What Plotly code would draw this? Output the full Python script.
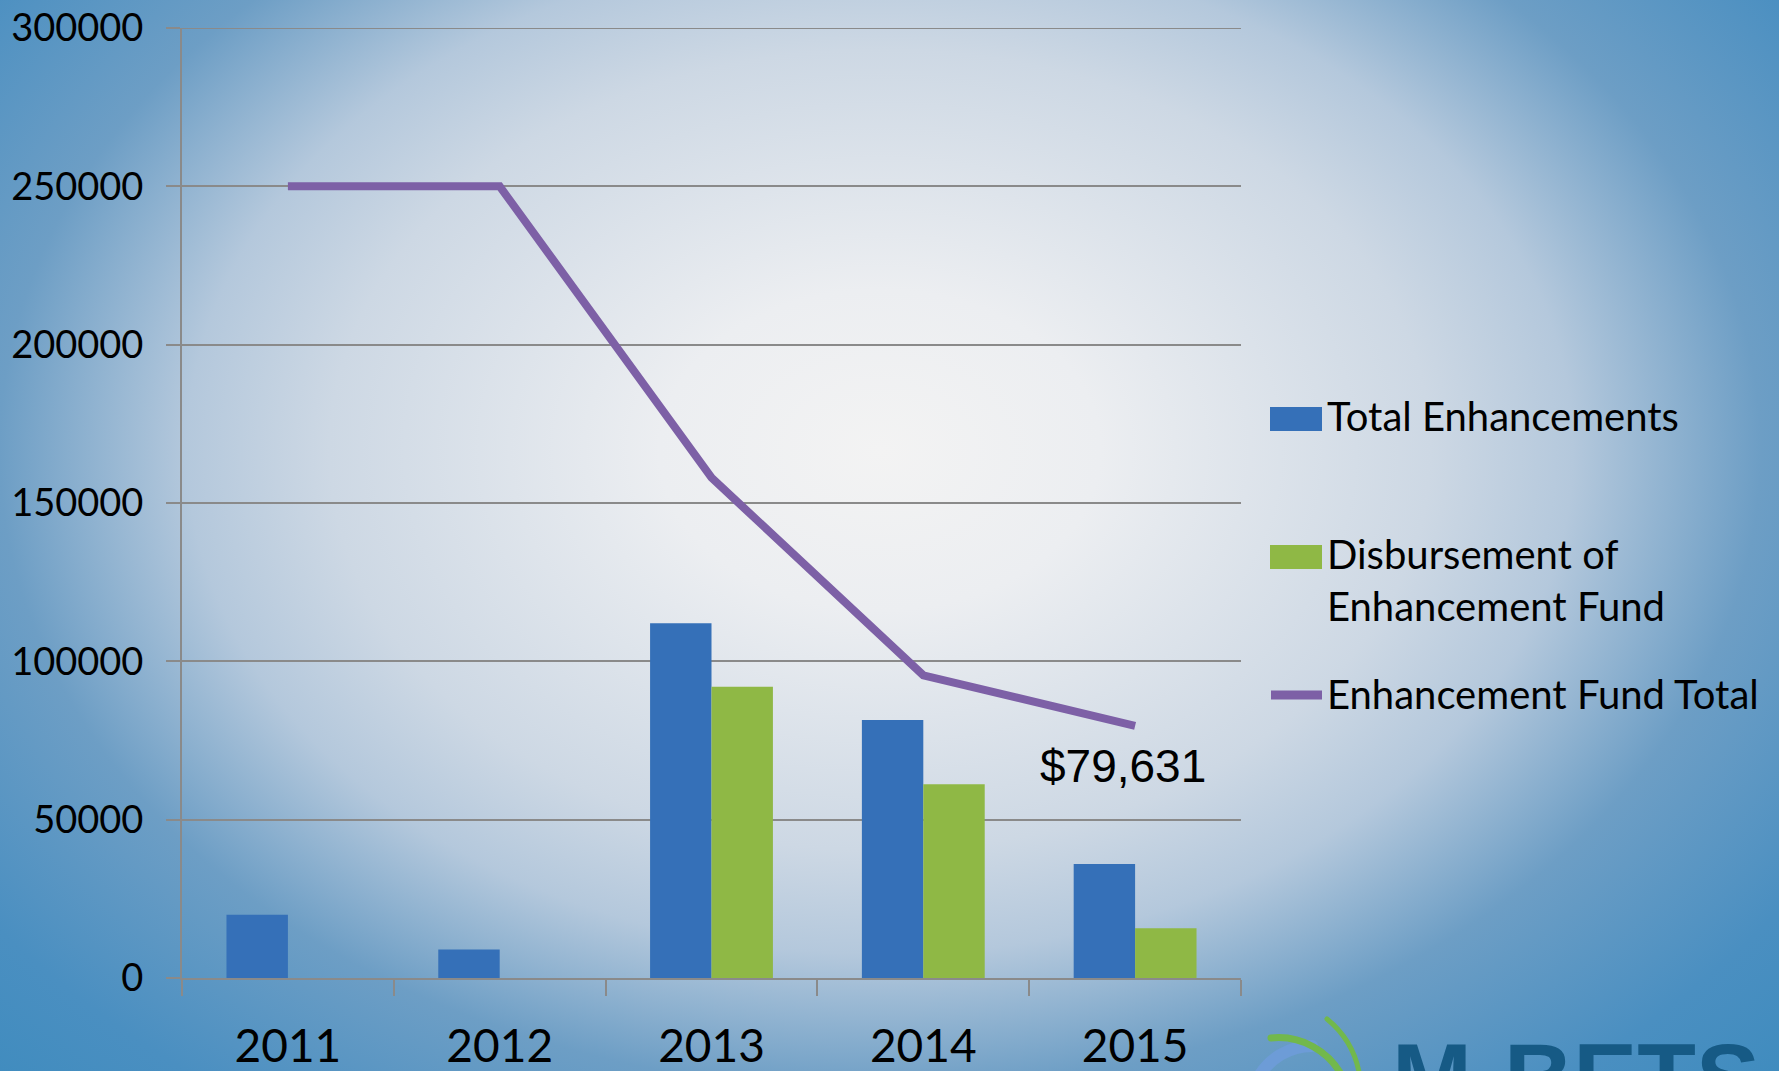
import base64
import plotly.graph_objects as go

# ---- data ----
years = ["2011", "2012", "2013", "2014", "2015"]
total_enhancements = [20000, 9000, 112000, 81500, 36000]
disbursement = [None, None, 92000, 61200, 15700]
fund_total = [250000, 250000, 158000, 95600, 79631]
last_label = "$79,631"
y_ticks = [0, 50000, 100000, 150000, 200000, 250000, 300000]

W, H = 1779, 1071
L, R, T, B = 182, 538, 28, 93
PW, PH = W - L - R, H - T - B

def px(x):
    return (x - L) / PW

def py(y):
    return (H - B - y) / PH

# ---- background (radial gradient + logo arcs) ----
svg = f"""<svg xmlns='http://www.w3.org/2000/svg' width='{W}' height='{H}' viewBox='0 0 {W} {H}' preserveAspectRatio='none'>
<defs><radialGradient id='g' gradientUnits='userSpaceOnUse' cx='0' cy='0' r='1' gradientTransform='translate(880 450) scale(1320 960)'>
<stop offset='0' stop-color='#f3f3f3'/>
<stop offset='0.167' stop-color='#eceef1'/>
<stop offset='0.417' stop-color='#cdd8e4'/>
<stop offset='0.525' stop-color='#b4c8dc'/>
<stop offset='0.667' stop-color='#6d9ec5'/>
<stop offset='0.833' stop-color='#4a8fc1'/>
<stop offset='1' stop-color='#3a8abd'/>
</radialGradient></defs>
<rect width='{W}' height='{H}' fill='url(#g)'/>
<path d='M1258,1078 A62,62 0 0 1 1312,1046' fill='none' stroke='#6d9cd7' stroke-width='12' stroke-linecap='round'/>
<path d='M1271,1038 A72,72 0 0 1 1343,1078' fill='none' stroke='#72b84c' stroke-width='7' stroke-linecap='round'/>
<path d='M1327,1019 A92,92 0 0 1 1360,1078' fill='none' stroke='#72b84c' stroke-width='5' stroke-linecap='round'/>
</svg>"""
bg_src = "data:image/svg+xml;base64," + base64.b64encode(svg.encode()).decode()

blue = "#3570b8"
green = "#8fb845"
purple = "#7d60a6"
grid = "#8a8a8a"

fig = go.Figure()
fig.add_trace(go.Bar(x=years, y=total_enhancements, name="Total Enhancements",
                     marker=dict(color=blue, line=dict(width=0))))
fig.add_trace(go.Bar(x=years, y=disbursement, name="Disbursement of Enhancement Fund",
                     marker=dict(color=green, line=dict(width=0))))
fig.add_trace(go.Scatter(x=years, y=fund_total, mode="lines", name="Enhancement Fund Total",
                         line=dict(color=purple, width=8)))

shapes = [
    # top gridline (plotly omits grid lines at the range edge)
    dict(type="line", xref="paper", yref="y", x0=0, x1=1, y0=y_ticks[-1], y1=y_ticks[-1],
         line=dict(color=grid, width=2), layer="below"),
    dict(type="rect", xref="paper", yref="paper", x0=px(1270), x1=px(1322), y0=py(431), y1=py(407),
         fillcolor=blue, line=dict(width=0)),
    dict(type="rect", xref="paper", yref="paper", x0=px(1270), x1=px(1322), y0=py(569), y1=py(545),
         fillcolor=green, line=dict(width=0)),
    dict(type="line", xref="paper", yref="paper", x0=px(1271), x1=px(1322), y0=py(695), y1=py(695),
         line=dict(color=purple, width=9)),
]

leg_font = dict(family="Lato", size=40, color="#000000")
annotations = [
    dict(xref="paper", yref="paper", x=px(1325), y=py(416), xanchor="left", yanchor="middle",
         text="Total Enhancements", showarrow=False, font=leg_font),
    dict(xref="paper", yref="paper", x=px(1325), y=py(580), xanchor="left", yanchor="middle",
         text="Disbursement of<br>Enhancement Fund", showarrow=False, font=leg_font, align="left"),
    dict(xref="paper", yref="paper", x=px(1325), y=py(694), xanchor="left", yanchor="middle",
         text="Enhancement Fund Total", showarrow=False, font=leg_font),
    dict(xref="x", yref="y", x=len(years) - 1, y=fund_total[-1], xshift=-12, yshift=-40,
         xanchor="center", yanchor="middle", text=last_label, showarrow=False,
         font=dict(family="Liberation Sans", size=46, color="#000000")),
    dict(xref="paper", yref="paper", x=px(1390), y=py(1022), xanchor="left", yanchor="top",
         text="<b>M-BETS</b>", showarrow=False,
         font=dict(family="Liberation Sans", size=96, color="#165a85")),
]

fig.update_layout(
    width=W, height=H,
    margin=dict(l=L, r=R, t=T, b=B, pad=0, autoexpand=False),
    paper_bgcolor="#b9cadb",
    plot_bgcolor="rgba(0,0,0,0)",
    barmode="group", bargap=0.42, bargroupgap=0,
    showlegend=False,
    shapes=shapes,
    annotations=annotations,
    images=[dict(source=bg_src, xref="paper", yref="paper", x=-L / PW, y=1 + T / PH,
                 sizex=W / PW, sizey=H / PH, sizing="stretch", xanchor="left", yanchor="top",
                 layer="below")],
    xaxis=dict(type="category", range=[-0.5, len(years) - 0.5], autorange=False,
               showgrid=False, showline=True, linecolor=grid, linewidth=2,
               ticks="outside", tickson="boundaries", ticklen=16, tickwidth=2, tickcolor=grid,
               tickfont=dict(family="Lato", size=46, color="#000000"), ticklabelstandoff=27,
               tickangle=0, zeroline=False, automargin=False),
    yaxis=dict(range=[0, 300000], autorange=False, tickvals=y_ticks, ticktext=[str(v) for v in y_ticks],
               showgrid=True, gridcolor=grid, gridwidth=2,
               showline=True, linecolor=grid, linewidth=2,
               ticks="outside", ticklen=14, tickwidth=2, tickcolor=grid,
               tickfont=dict(family="Lato", size=38, color="#000000"), ticklabelstandoff=15,
               zeroline=False, automargin=False),
)

fig.write_html("out.html", config={"displayModeBar": False},
               post_script="document.body.style.margin='0';document.body.style.overflow='hidden';")
